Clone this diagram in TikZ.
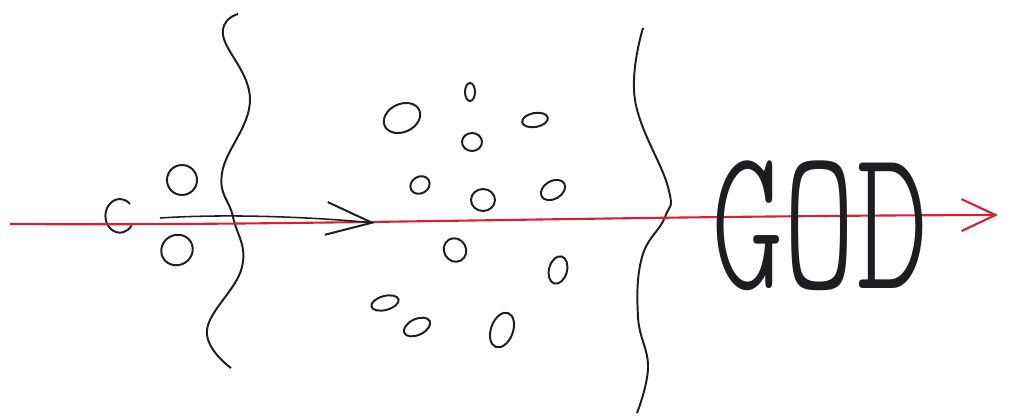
\documentclass[tikz,border=0pt]{standalone}
\usepackage{fontspec}
\usepackage{xcolor}
\usepackage{tikz}
\usetikzlibrary{positioning}
\usetikzlibrary{shapes.geometric,calc,arrows.meta}
\newfontfamily\godfont{Latin Modern Mono Light}
\definecolor{penred}{RGB}{214,32,56}
\definecolor{penblack}{RGB}{30,30,34}
\tikzset{
	x = 0.025cm, y = -0.025cm,
	line cap = round, line join = round,
	pen/.style = {draw = penblack, line width = 1.4pt},
	bead/.style = {ellipse, pen, inner sep = 0pt},
	wall/.style = {pen, smooth, tension = 0.7},
	redray/.style = {draw = penred, line width = 1.5pt,
	 -{Straight Barb[length = 0.85cm, width = 0.8cm, line width = 1.5pt]}},
	blackray/.style = {pen, line width = 1.1pt,
	 -{Straight Barb[length = 1.15cm, width = 0.82cm, line width = 1.4pt]}},
}
\begin{document}
\begin{tikzpicture}
	\useasboundingbox (0,0) rectangle (1011,415);
	% left wall and right wall
	\draw[wall] plot coordinates {(238,14) (223,35) (250,100) (222,173) (233,217) (242,267) (207,330) (231,368)};
	\draw[wall] plot coordinates {(643,28) (635,100) (668,187) (665,217) (642,257) (638,317) (648,367) (637,413)};
	% beads before the wall
	\coordinate (c0) at (120,216);
	\draw[pen] ($(c0)+(10,-12)$) arc[start angle = 45, end angle = 325, x radius = 0.36cm, y radius = 0.42cm];
	\node (b1) [bead, minimum width = 0.75cm, minimum height = 0.75cm] at (182,180) {};
	\node (b2) [bead, minimum width = 0.8cm, minimum height = 0.75cm, rotate = 30] at (177,250) {};
	% beads inside
	\node (m1)  [bead, minimum width = 0.95cm, minimum height = 0.7cm, rotate = 25] at (402,118) {};
	\node (m2)  [bead, minimum width = 0.25cm, minimum height = 0.45cm] at (470,92) {};
	\node (m3)  [bead, minimum width = 0.5cm, minimum height = 0.45cm] at (472,142) {};
	\node (m4)  [bead, minimum width = 0.65cm, minimum height = 0.35cm, rotate = 10] at (535,120) {};
	\node (m5)  [bead, minimum width = 0.5cm, minimum height = 0.42cm, rotate = 30] at (420,185) {};
	\node (m6)  [bead, minimum width = 0.6cm, minimum height = 0.55cm] at (483,200) {};
	\node (m7)  [bead, minimum width = 0.65cm, minimum height = 0.45cm, rotate = 30] at (553,190) {};
	\node (m8)  [bead, minimum width = 0.55cm, minimum height = 0.6cm, rotate = 30] at (455,250) {};
	\node (m9)  [bead, minimum width = 0.45cm, minimum height = 0.7cm, rotate = -15] at (558,270) {};
	\node (m10) [bead, minimum width = 0.7cm, minimum height = 0.35cm, rotate = 15] at (385,303) {};
	\node (m11) [bead, minimum width = 0.7cm, minimum height = 0.4cm, rotate = 25] at (417,327) {};
	\node (m12) [bead, minimum width = 0.55cm, minimum height = 0.9cm, rotate = -20] at (502,330) {};
	% rays
	\coordinate (rstart) at (10,224);
	\coordinate (rend) at (998,215);
	\coordinate (kstart) at (160,218);
	\coordinate (kend) at (375,223);
	\draw[redray] (rstart) .. controls (300,226) and (600,216) .. (rend);
	\draw[blackray] (kstart) .. controls (220,214) and (300,216) .. (kend);
	% the word
	\node (god) [penblack, inner sep = 0pt, xscale = 0.67, font = \godfont\fontsize{146}{146}\selectfont] at (820,226) {GOD};
\end{tikzpicture}
\end{document}
